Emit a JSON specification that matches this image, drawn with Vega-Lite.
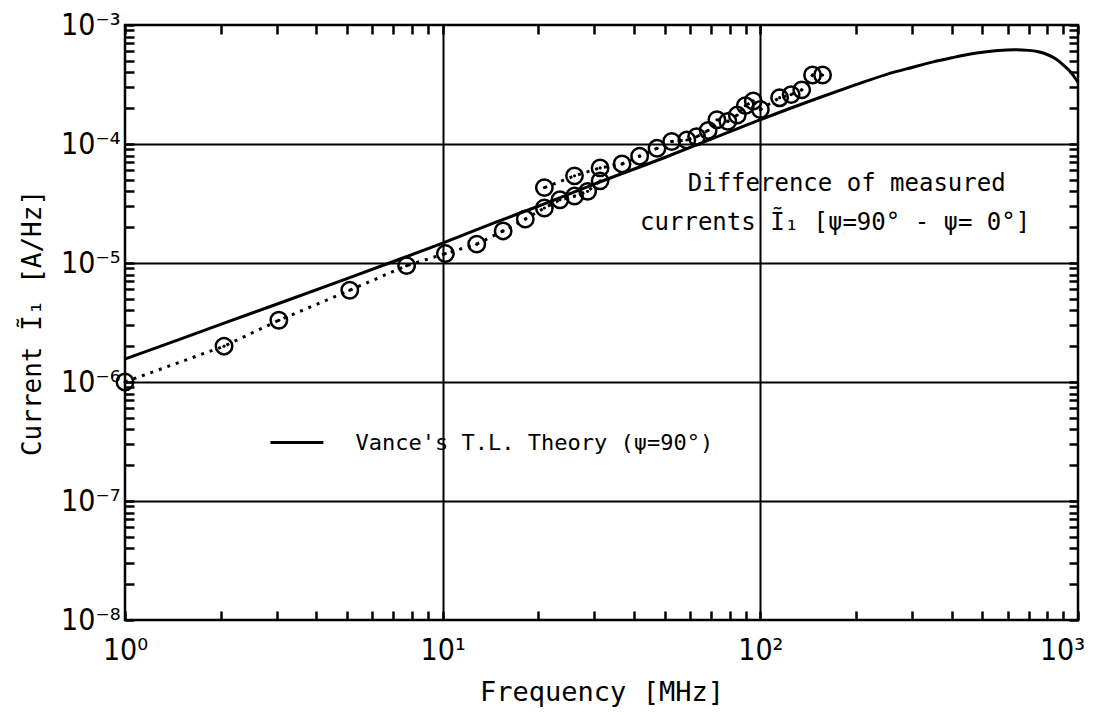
{
  "$schema": "https://vega.github.io/schema/vega-lite/v6.json",
  "width": 953,
  "height": 595,
  "autosize": "none",
  "padding": {"left": 125, "top": 25, "right": 17, "bottom": 95},
  "background": "white",
  "config": {
    "font": "DejaVu Sans Mono",
    "view": {"stroke": "black", "strokeWidth": 2.5},
    "axis": {"labelColor": "black", "titleColor": "black", "titleFontWeight": "normal", "tickColor": "black", "tickOpacity": 1, "domainColor": "black", "labelOverlap": false, "labelFlush": false, "labelFont": "Liberation Sans Narrow, DejaVu Sans Condensed, DejaVu Sans", "titleFont": "DejaVu Sans Mono"}
  },
  "datasets": {
    "theory": [
      {"f": 1, "I": 1.56e-6}, {"f": 1.5, "I": 2.3e-6}, {"f": 2, "I": 3.05e-6}, {"f": 3, "I": 4.5e-6},
      {"f": 5, "I": 7.4e-6}, {"f": 7, "I": 1.03e-5}, {"f": 10, "I": 1.47e-5}, {"f": 15, "I": 2.25e-5},
      {"f": 20, "I": 3.0e-5}, {"f": 30, "I": 4.6e-5}, {"f": 50, "I": 7.7e-5}, {"f": 70, "I": 1.1e-4},
      {"f": 100, "I": 1.6e-4}, {"f": 150, "I": 2.4e-4}, {"f": 200, "I": 3.15e-4}, {"f": 250, "I": 3.85e-4},
      {"f": 300, "I": 4.4e-4}, {"f": 350, "I": 4.9e-4}, {"f": 400, "I": 5.3e-4}, {"f": 450, "I": 5.65e-4},
      {"f": 500, "I": 5.9e-4}, {"f": 560, "I": 6.1e-4}, {"f": 630, "I": 6.2e-4}, {"f": 700, "I": 6.12e-4},
      {"f": 750, "I": 5.95e-4}, {"f": 800, "I": 5.65e-4}, {"f": 850, "I": 5.2e-4}, {"f": 900, "I": 4.6e-4},
      {"f": 950, "I": 4.0e-4}, {"f": 1000, "I": 3.3e-4}
    ],
    "measured": [
      {"f": 1, "I": 1.0e-6, "s": "A"}, {"f": 2.05, "I": 2.0e-6, "s": "A"}, {"f": 3.05, "I": 3.3e-6, "s": "A"},
      {"f": 5.1, "I": 5.9e-6, "s": "A"}, {"f": 7.7, "I": 9.5e-6, "s": "A"}, {"f": 10.2, "I": 1.2e-5, "s": "A"},
      {"f": 12.8, "I": 1.44e-5, "s": "A"}, {"f": 15.5, "I": 1.86e-5, "s": "A"}, {"f": 18.2, "I": 2.34e-5, "s": "A"},
      {"f": 20.9, "I": 2.9e-5, "s": "A"}, {"f": 23.4, "I": 3.4e-5, "s": "A"}, {"f": 26, "I": 3.65e-5, "s": "A"},
      {"f": 28.6, "I": 4.0e-5, "s": "A"}, {"f": 31.3, "I": 4.9e-5, "s": "A"},
      {"f": 20.9, "I": 4.3e-5, "s": "B"}, {"f": 26, "I": 5.4e-5, "s": "B"}, {"f": 31.3, "I": 6.3e-5, "s": "B"},
      {"f": 36.7, "I": 6.8e-5, "s": "B"}, {"f": 41.7, "I": 7.9e-5, "s": "B"}, {"f": 47.3, "I": 9.2e-5, "s": "B"},
      {"f": 52.6, "I": 1.05e-4, "s": "B"}, {"f": 58.7, "I": 1.08e-4, "s": "B"}, {"f": 63, "I": 1.15e-4, "s": "B"},
      {"f": 68.5, "I": 1.3e-4, "s": "B"}, {"f": 73, "I": 1.6e-4, "s": "B"}, {"f": 79, "I": 1.55e-4, "s": "B"},
      {"f": 84.6, "I": 1.75e-4, "s": "B"}, {"f": 89.7, "I": 2.1e-4, "s": "B"}, {"f": 95, "I": 2.3e-4, "s": "B"},
      {"f": 100, "I": 1.95e-4, "s": "B"}, {"f": 115, "I": 2.45e-4, "s": "B"}, {"f": 125, "I": 2.6e-4, "s": "B"},
      {"f": 135, "I": 2.85e-4, "s": "B"}, {"f": 146, "I": 3.8e-4, "s": "B"}, {"f": 157, "I": 3.8e-4, "s": "B"}
    ],
    "legendline": [{"f1": 2.87, "f2": 4.21, "v": 3.1e-7}],
    "labels": [
      {"f": 5.32, "v": 3.1e-7, "t": "Vance's T.L. Theory (ψ=90°)", "a": "left"},
      {"f": 187, "v": 4.6e-5, "t": "Difference of measured", "a": "center"},
      {"f": 172, "v": 2.15e-5, "t": "currents Ĩ₁ [ψ=90° - ψ= 0°]", "a": "center"}
    ]
  },
  "resolve": {"axis": {"x": "independent", "y": "independent"}},
  "layer": [
    {
      "data": {"name": "theory"},
      "mark": {"type": "line", "stroke": "black", "strokeWidth": 3, "interpolate": "monotone"},
      "encoding": {
        "x": {
          "field": "f", "type": "quantitative",
          "scale": {"type": "log", "domain": [1, 1000], "nice": false},
          "axis": {
            "orient": "bottom", "title": "Frequency [MHz]",
            "values": [1,2,3,4,5,6,7,8,9,10,20,30,40,50,60,70,80,90,100,200,300,400,500,600,700,800,900,1000],
            "labelExpr": "abs(log(datum.value)/LN10 - round(log(datum.value)/LN10)) < 0.001 ? '10' + ['⁰','¹','²','³'][round(log(datum.value)/LN10)] : ''",
            "labelOffset": {"condition": {"test": "datum.value == 1000", "value": -16}, "value": 0},
            "grid": true, "gridColor": "black", "gridWidth": 2,
            "gridOpacity": {"condition": {"test": "datum.value == 10 || datum.value == 100", "value": 1}, "value": 0},
            "ticks": true, "tickSize": -9, "tickWidth": 2.5, "tickColor": "black", "domain": false,
            "labelFontSize": 30, "labelPadding": 24, "titleFontSize": 27,
            "titleY": 80, "titleBaseline": "alphabetic"
          }
        },
        "y": {
          "field": "I", "type": "quantitative",
          "scale": {"type": "log", "domain": [1e-8, 1e-3], "nice": false},
          "axis": {
            "orient": "left", "title": "Current Ĩ₁ [A/Hz]",
            "values": [1e-8,2e-8,3e-8,4e-8,5e-8,6e-8,7e-8,8e-8,9e-8,1e-7,2e-7,3e-7,4e-7,5e-7,6e-7,7e-7,8e-7,9e-7,1e-6,2e-6,3e-6,4e-6,5e-6,6e-6,7e-6,8e-6,9e-6,1e-5,2e-5,3e-5,4e-5,5e-5,6e-5,7e-5,8e-5,9e-5,1e-4,2e-4,3e-4,4e-4,5e-4,6e-4,7e-4,8e-4,9e-4,1e-3],
            "labelExpr": "abs(log(datum.value)/LN10 - round(log(datum.value)/LN10)) < 0.001 ? '10' + ['⁻⁸','⁻⁷','⁻⁶','⁻⁵','⁻⁴','⁻³'][round(log(datum.value)/LN10)+8] : ''",
            "grid": true, "gridColor": "black", "gridWidth": 2,
            "gridOpacity": {"condition": {"test": "abs(log(datum.value)/LN10 - round(log(datum.value)/LN10)) < 0.001 && datum.value > 2e-8 && datum.value < 5e-4", "value": 1}, "value": 0},
            "ticks": true, "tickSize": -9, "tickWidth": 2.5, "tickColor": "black", "domain": false,
            "labelFontSize": 30, "labelPadding": 14, "titleFontSize": 26,
            "titleX": -85, "titleBaseline": "alphabetic"
          }
        }
      }
    },
    {
      "data": {"name": "measured"},
      "mark": {"type": "line", "stroke": "black", "strokeWidth": 3, "strokeDash": [3, 6]},
      "encoding": {
        "x": {"field": "f", "type": "quantitative", "axis": {
          "orient": "top", "values": [1,2,3,4,5,6,7,8,9,10,20,30,40,50,60,70,80,90,100,200,300,400,500,600,700,800,900,1000],
          "labels": false, "grid": false, "domain": false, "title": null, "ticks": true, "tickSize": -9, "tickWidth": 2.5, "tickColor": "black"}},
        "y": {"field": "I", "type": "quantitative", "axis": {
          "orient": "right", "values": [1e-8,2e-8,3e-8,4e-8,5e-8,6e-8,7e-8,8e-8,9e-8,1e-7,2e-7,3e-7,4e-7,5e-7,6e-7,7e-7,8e-7,9e-7,1e-6,2e-6,3e-6,4e-6,5e-6,6e-6,7e-6,8e-6,9e-6,1e-5,2e-5,3e-5,4e-5,5e-5,6e-5,7e-5,8e-5,9e-5,1e-4,2e-4,3e-4,4e-4,5e-4,6e-4,7e-4,8e-4,9e-4,1e-3],
          "labels": false, "grid": false, "domain": false, "title": null, "ticks": true, "tickSize": -9, "tickWidth": 2.5, "tickColor": "black"}},
        "detail": {"field": "s"}
      }
    },
    {
      "data": {"name": "measured"},
      "mark": {"type": "point", "shape": "circle", "filled": false, "stroke": "black", "strokeWidth": 2.5, "size": 270, "opacity": 1},
      "encoding": {
        "x": {"field": "f", "type": "quantitative", "axis": null},
        "y": {"field": "I", "type": "quantitative", "axis": null}
      }
    },
    {
      "data": {"name": "measured"},
      "mark": {"type": "point", "shape": "circle", "filled": true, "fill": "black", "size": 10, "opacity": 1},
      "encoding": {
        "x": {"field": "f", "type": "quantitative", "axis": null},
        "y": {"field": "I", "type": "quantitative", "axis": null}
      }
    },
    {
      "data": {"name": "legendline"},
      "mark": {"type": "rule", "stroke": "black", "strokeWidth": 3},
      "encoding": {
        "x": {"field": "f1", "type": "quantitative", "axis": null},
        "x2": {"field": "f2"},
        "y": {"field": "v", "type": "quantitative", "axis": null}
      }
    },
    {
      "data": {"name": "labels"},
      "transform": [{"filter": "datum.a == 'left'"}],
      "mark": {"type": "text", "align": "left", "baseline": "middle", "fontSize": 22, "color": "black"},
      "encoding": {
        "x": {"field": "f", "type": "quantitative", "axis": null},
        "y": {"field": "v", "type": "quantitative", "axis": null},
        "text": {"field": "t"}
      }
    },
    {
      "data": {"name": "labels"},
      "transform": [{"filter": "datum.a == 'center'"}],
      "mark": {"type": "text", "align": "center", "baseline": "middle", "fontSize": 24, "color": "black"},
      "encoding": {
        "x": {"field": "f", "type": "quantitative", "axis": null},
        "y": {"field": "v", "type": "quantitative", "axis": null},
        "text": {"field": "t"}
      }
    }
  ]
}
